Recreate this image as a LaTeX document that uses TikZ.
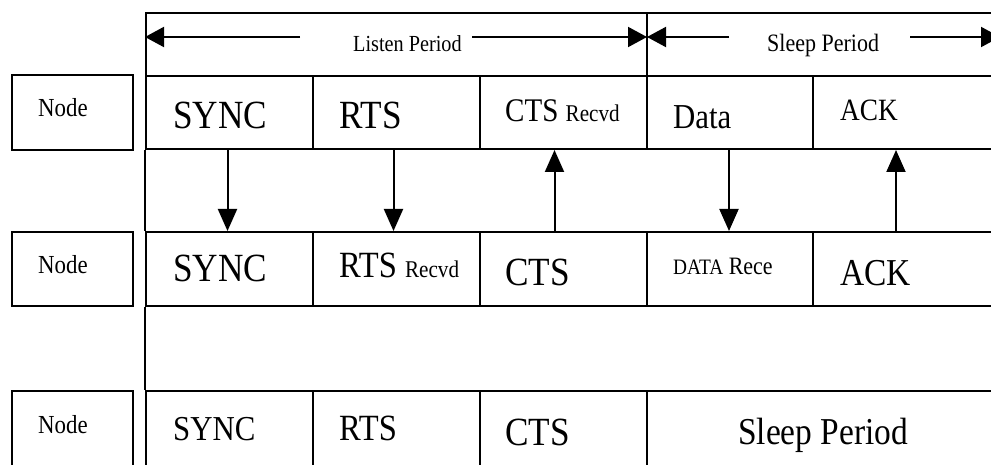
\documentclass[tikz,border=0pt]{standalone}
\usepackage{fontspec}
\setmainfont{Liberation Serif}[FakeStretch=0.88]
\usetikzlibrary{arrows.meta}
\begin{document}
\begin{tikzpicture}[x=1pt,y=-1pt,
  box/.style={draw, line width=2pt, inner sep=0pt, anchor=north west},
  arr/.style={line width=2pt, -{Triangle[length=22pt,width=19pt]}},
  harr/.style={line width=2pt, -{Triangle[length=19pt,width=20pt]}},
  lbl/.style={anchor=base west, inner sep=0pt},
  fs/.style={font=\fontsize{#1}{#1}\selectfont},
]
\useasboundingbox (0,0) rectangle (991,465);
% header
\node[box, minimum width=501pt, minimum height=63pt] (hl) at (145,12) {};
\node[box, minimum width=352pt, minimum height=63pt] (hs) at (646,12) {};
% node boxes
\node[box, minimum width=121pt, minimum height=75pt] (n1) at (11,74) {};
\node[box, minimum width=121pt, minimum height=74pt] (n2) at (11,231) {};
\node[box, minimum width=121pt, minimum height=75pt] (n3) at (11,390) {};
% row 1
\node[box, minimum width=167pt, minimum height=73pt] (r1c1) at (145,75) {};
\node[box, minimum width=167pt, minimum height=73pt] (r1c2) at (312,75) {};
\node[box, minimum width=167pt, minimum height=73pt] (r1c3) at (479,75) {};
\node[box, minimum width=166pt, minimum height=73pt] (r1c4) at (646,75) {};
\node[box, minimum width=186pt, minimum height=73pt] (r1c5) at (812,75) {};
% row 2
\node[box, minimum width=167pt, minimum height=74pt] (r2c1) at (145,231) {};
\node[box, minimum width=167pt, minimum height=74pt] (r2c2) at (312,231) {};
\node[box, minimum width=167pt, minimum height=74pt] (r2c3) at (479,231) {};
\node[box, minimum width=166pt, minimum height=74pt] (r2c4) at (646,231) {};
\node[box, minimum width=186pt, minimum height=74pt] (r2c5) at (812,231) {};
% row 3
\node[box, minimum width=167pt, minimum height=75pt] (r3c1) at (145,390) {};
\node[box, minimum width=167pt, minimum height=75pt] (r3c2) at (312,390) {};
\node[box, minimum width=167pt, minimum height=75pt] (r3c3) at (479,390) {};
\node[box, minimum width=352pt, minimum height=75pt] (r3c4) at (646,390) {};
% left spine between rows
\draw[line width=2pt] (r1c1.south west) -- (r2c1.north west);
\draw[line width=2pt] (r2c1.south west) -- (r3c1.north west);
% header arrows
\coordinate (la) at (300,37);
\coordinate (lb) at (472,37);
\coordinate (sa) at (729,37);
\coordinate (sb) at (910,37);
\draw[harr] (la) -- (hl.west |- la);
\draw[harr] (lb) -- ([xshift=-1pt]hl.east |- lb);
\draw[harr] (sa) -- ([xshift=1pt]hs.west |- sa);
\draw[harr] (sb) -- (1000,37);
\node[lbl, fs=23] (tl) at (353,52) {Listen Period};
\node[lbl, fs=25] (ts) at (767,52) {Sleep Period};
% labels
\node[lbl, fs=26] (l1) at (38,117) {Node};
\node[lbl, fs=26] (l2) at (38,273) {Node};
\node[lbl, fs=26] (l3) at (38,433) {Node};
\node[lbl, fs=40] (t11) at (173,129) {SYNC};
\node[lbl, fs=40] (t12) at (339,129) {RTS};
\node[lbl, fs=33] (t13) at (505,122) {CTS {\fontsize{24}{24}\selectfont Recvd}};
\node[lbl, fs=35] (t14) at (673,129) {Data};
\node[lbl, fs=31] (t15) at (840,121) {ACK};
\node[lbl, fs=40] (t21) at (173,282) {SYNC};
\node[lbl, fs=37] (t22) at (339,278) {RTS {\fontsize{24}{24}\selectfont Recvd}};
\node[lbl, fs=40] (t23) at (505,285) {CTS};
\node[lbl, fs=25] (t24) at (673,274) {{\fontsize{22}{22}\selectfont DATA} Rece};
\node[lbl, fs=38] (t25) at (840,285) {ACK};
\node[lbl, fs=35] (t31) at (173,440) {SYNC};
\node[lbl, fs=37] (t32) at (339,440) {RTS};
\node[lbl, fs=40] (t33) at (505,445) {CTS};
\node[lbl, fs=38] (t34) at (738,444) {Sleep Period};
% message arrows
\draw[arr] ([xshift=-2pt]r1c1.south) -- ([xshift=-2pt]r2c1.north);
\draw[arr] ([xshift=-3pt]r1c2.south) -- ([xshift=-3pt]r2c2.north);
\draw[arr] ([xshift=-9pt]r2c3.north) -- ([xshift=-9pt]r1c3.south);
\draw[arr] ([xshift=-1pt]r1c4.south) -- ([xshift=-1pt]r2c4.north);
\draw[arr] ([xshift=-10pt]r2c5.north) -- ([xshift=-10pt]r1c5.south);
\end{tikzpicture}
\end{document}
